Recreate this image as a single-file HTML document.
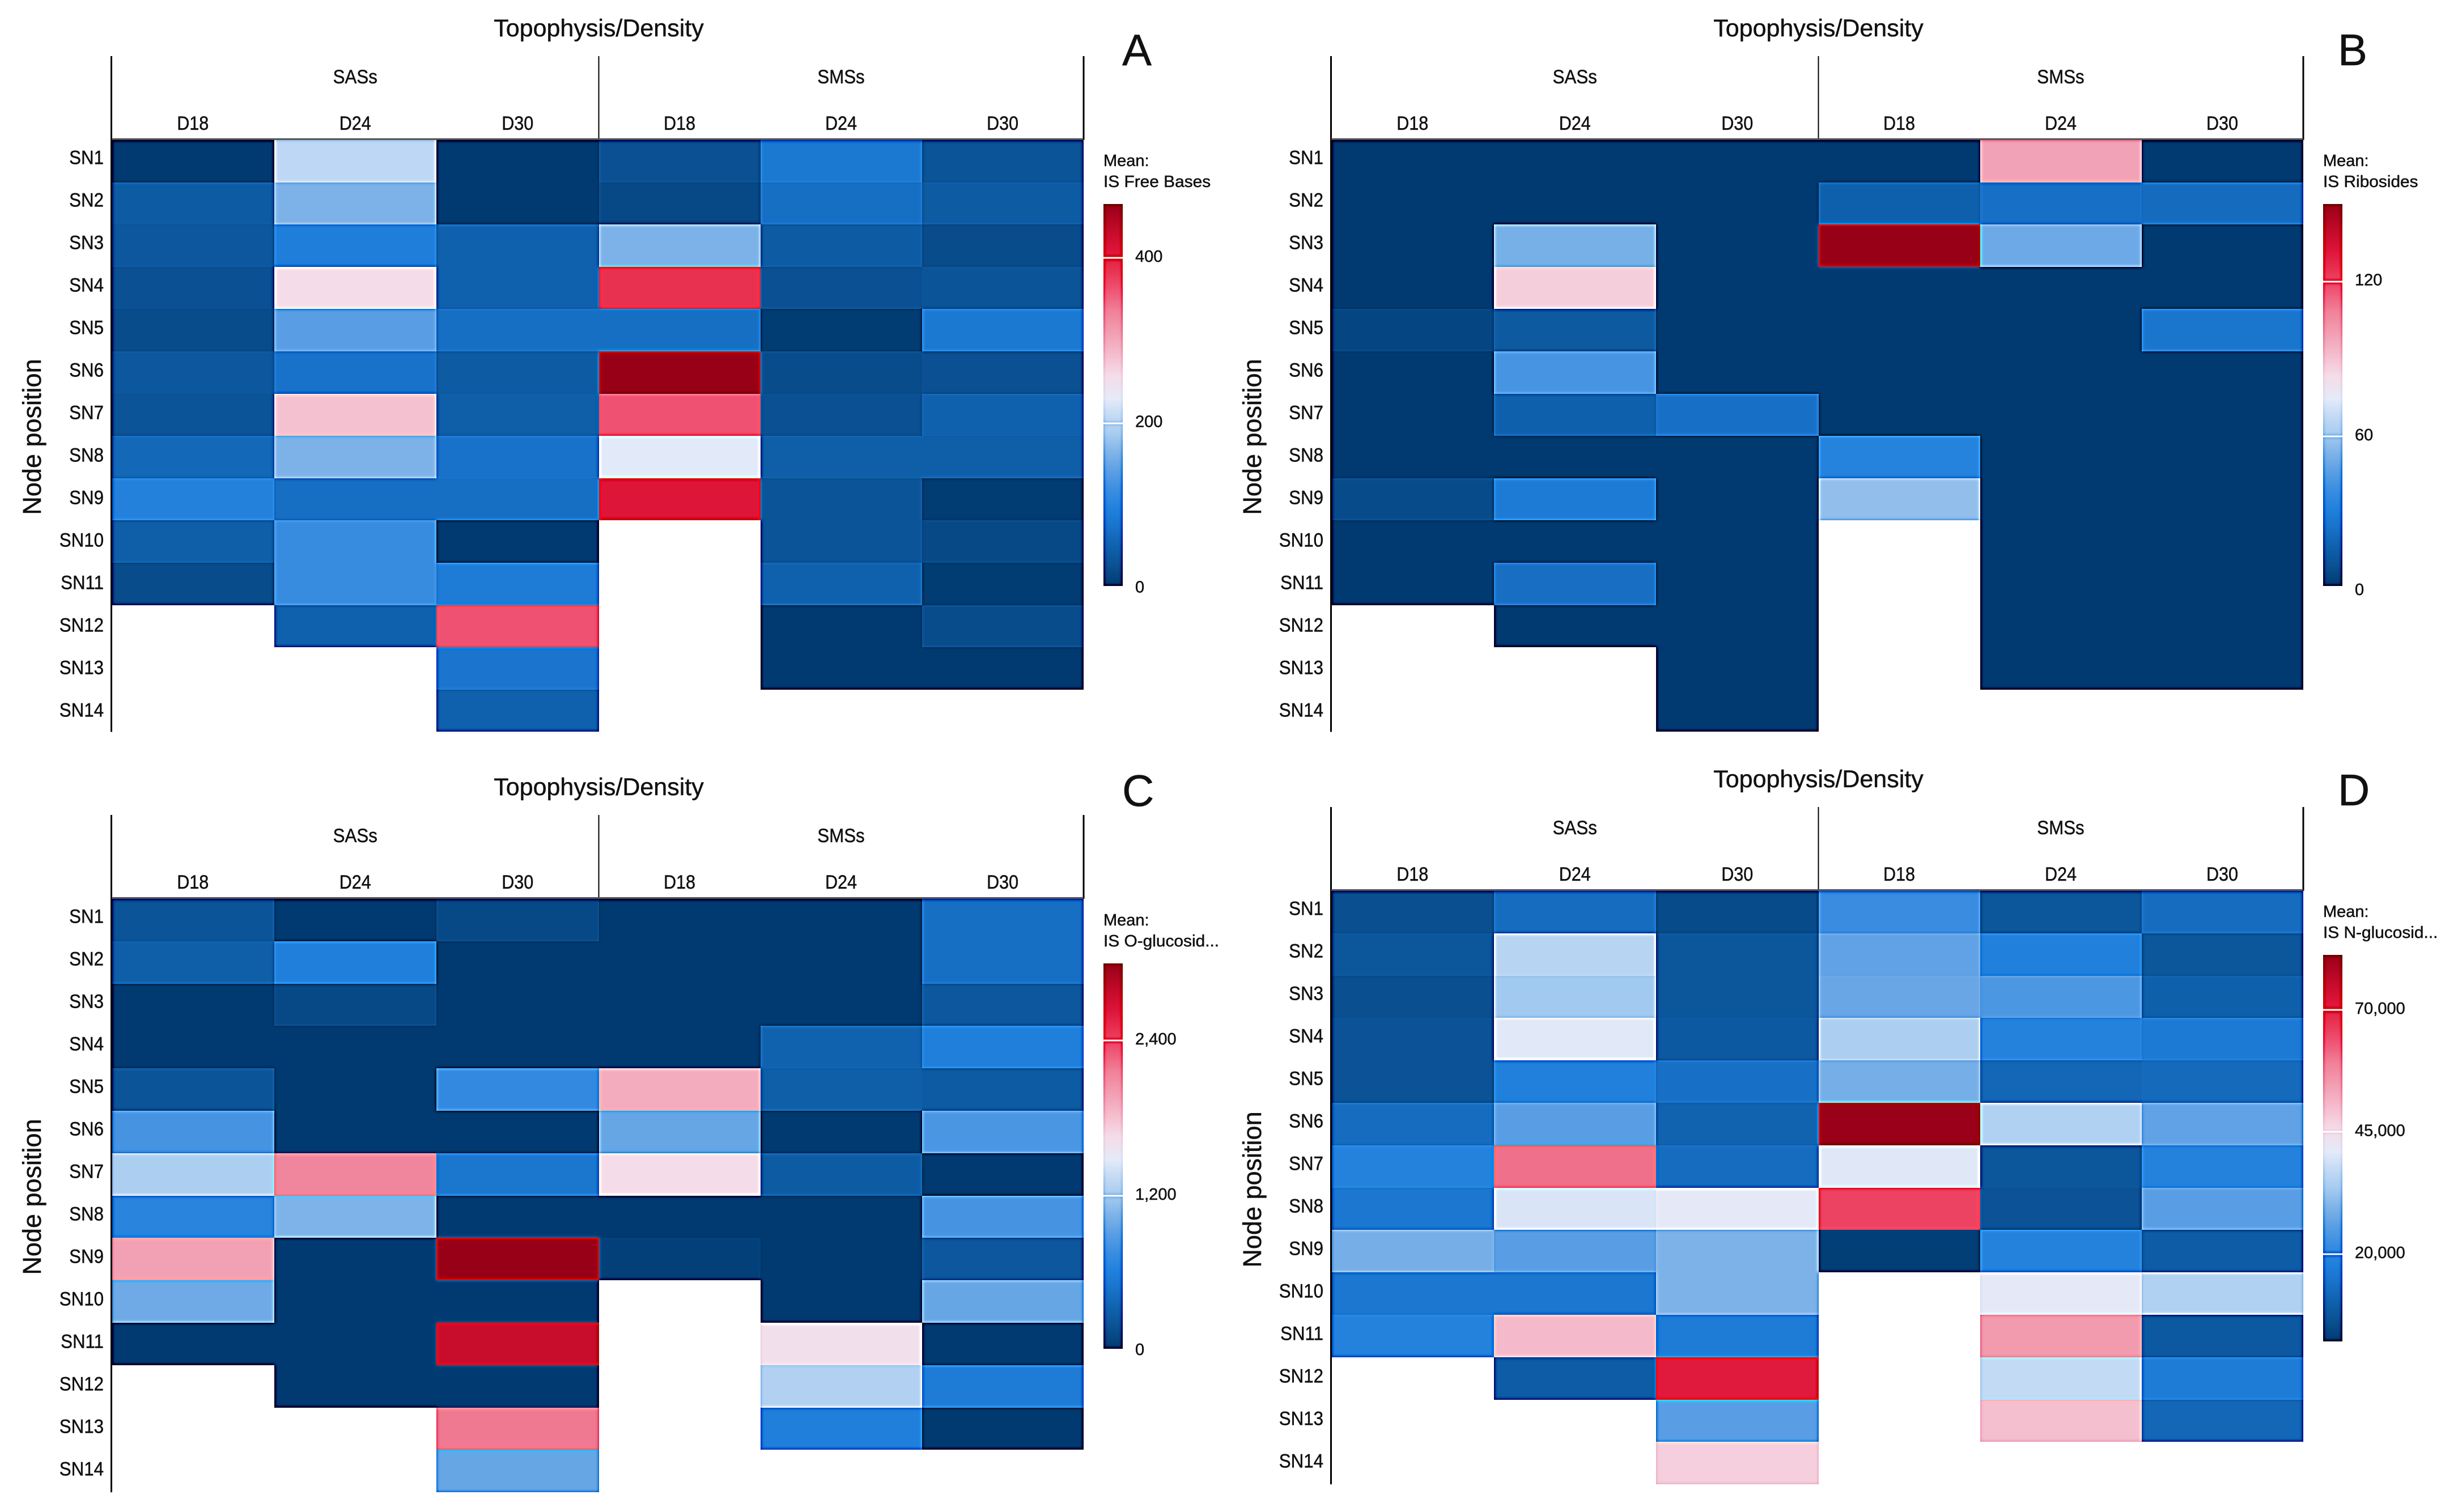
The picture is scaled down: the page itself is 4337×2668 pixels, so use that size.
<!DOCTYPE html>
<html lang="en">
<head>
<meta charset="utf-8">
<title>Topophysis/Density heatmaps</title>
<style>
html,body{margin:0;padding:0;background:#fff;}
svg{display:block;}
text{font-family:"Liberation Sans",sans-serif;fill:#111;stroke:#111;stroke-width:0.5px;}
</style>
</head>
<body>
<svg id="chart" xmlns="http://www.w3.org/2000/svg" width="4337" height="2668" viewBox="0 0 4337 2668">
<defs>
<filter id="sharpen" filterUnits="userSpaceOnUse" x="0" y="0" width="4337" height="2668" color-interpolation-filters="sRGB">
<feGaussianBlur in="SourceGraphic" stdDeviation="3" result="soft"/>
<feComposite in="SourceGraphic" in2="soft" operator="arithmetic" k1="0" k2="2.5" k3="-1.5" k4="0"/>
</filter>
</defs>
</svg>
<script>
var rowLabels = ['SN1','SN2','SN3','SN4','SN5','SN6','SN7','SN8','SN9','SN10','SN11','SN12','SN13','SN14'];
var groupLabels = ['SASs','SMSs'];
var dayLabels = ['D18','D24','D30','D18','D24','D30'];

var valuesA = [
[2,205,2,28,84,33],
[42,163,2,19,70,42],
[37,93,51,163,42,23],
[28,256,51,386,28,33],
[23,140,70,70,5,84],
[37,74,42,465,23,28],
[33,279,47,363,28,51],
[60,163,74,228,47,47],
[98,70,70,409,33,5],
[47,116,2,null,33,19],
[23,116,88,null,51,5],
[null,51,363,null,2,23],
[null,null,79,null,2,2],
[null,null,51,null,null,null]
];
var valuesB = [
[2,2,2,2,99,2],
[2,2,2,17,24,22],
[2,52,2,150,50,2],
[2,87,2,2,2,2],
[6,14,2,2,2,26],
[2,42,2,2,2,2],
[2,17,24,2,2,2],
[2,2,2,33,2,2],
[8,29,2,57,2,2],
[2,2,2,null,2,2],
[2,23,2,null,2,2],
[null,2,2,null,2,2],
[null,null,2,null,2,2],
[null,null,2,null,null,null]
];
var valuesC = [
[210,20,120,20,20,450],
[300,600,20,20,20,450],
[20,120,20,20,20,240],
[20,20,20,20,330,600],
[210,20,720,1920,300,270],
[810,20,20,960,20,840],
[1230,2130,510,1650,270,20],
[660,1050,20,20,20,810],
[1980,20,3000,60,20,240],
[990,20,20,null,20,960],
[20,20,2760,null,1610,20],
[null,20,20,null,1260,570],
[null,null,2190,null,600,20],
[null,null,960,null,null,null]
];
var valuesD = [
[6100,13100,5300,21700,7700,13100],
[7700,35800,7700,26400,17800,7700],
[6100,33200,7700,27200,24100,10000],
[6900,40600,8500,34200,18600,16300],
[6900,17800,13900,28700,11600,12400],
[13100,25600,10800,81000,35000,26400],
[18600,60700,13100,40400,7700,18600],
[15500,39700,41200,65400,6900,25600],
[28700,25600,29500,3000,18600,9200],
[15500,15500,29500,null,41200,35000],
[18600,50600,17000,null,55300,8500],
[null,9200,70900,null,37300,17000],
[null,null,25600,null,49800,11600],
[null,null,47500,null,null,null]
];

var ticksA = [0,200,400];
var tickLabelsA = ['0','200','400'];
var ticksB = [0,60,120];
var tickLabelsB = ['0','60','120'];
var ticksC = [0,1200,2400];
var tickLabelsC = ['0','1,200','2,400'];
var ticksD = [20000,45000,70000];
var tickLabelsD = ['20,000','45,000','70,000'];

var domainA = [3,465];
var domainB = [2,150];
var domainC = [18,2996];
var domainD = [2100,81250];

var colorStopT = [0,0.05,0.1,0.16,0.2,0.25,0.3,0.35,0.4,0.44,0.49,0.55,0.6,0.66,0.72,0.78,0.83,0.88,0.92,1];
var colorStopHex = ['#003a70','#0a4f90','#0f60ab','#1a74cc','#2080dc','#3a8de0','#5b9fe4','#80b4e8','#a8ccf0','#c0d8f4','#e4eaf8','#f5dce8','#f4c0d0','#f2a0b4','#f08098','#ee5070','#e83050','#dc1438','#c80c2c','#980018'];

var NS = 'http://www.w3.org/2000/svg';
var svg = document.getElementById('chart');
var defs = svg.querySelector('defs');

function hexToRgb(h){
  return [parseInt(h.substr(1,2),16),parseInt(h.substr(3,2),16),parseInt(h.substr(5,2),16)];
}
function colorScale(t){
  if(t<=0) return colorStopHex[0];
  if(t>=1) return colorStopHex[colorStopHex.length-1];
  for(var i=1;i<colorStopT.length;i++){
    if(t<=colorStopT[i]){
      var f=(t-colorStopT[i-1])/(colorStopT[i]-colorStopT[i-1]);
      var a=hexToRgb(colorStopHex[i-1]),b=hexToRgb(colorStopHex[i]);
      return 'rgb('+Math.round(a[0]+(b[0]-a[0])*f)+','+Math.round(a[1]+(b[1]-a[1])*f)+','+Math.round(a[2]+(b[2]-a[2])*f)+')';
    }
  }
  return colorStopHex[colorStopHex.length-1];
}
function addShape(parent,tag,attrs){
  var el=document.createElementNS(NS,tag);
  for(var k in attrs){el.setAttribute(k,attrs[k]);}
  parent.appendChild(el);
  return el;
}
function addText(parent,str,x,y,size,anchor,sx,rot){
  var el=document.createElementNS(NS,'text');
  el.textContent=str;
  el.setAttribute('font-size',size);
  el.setAttribute('text-anchor',anchor);
  el.setAttribute('transform','translate('+x+','+y+')'+(rot?' rotate('+rot+')':'')+' scale('+sx+',1)');
  parent.appendChild(el);
  return el;
}

function drawPanel(p){
  var g=addShape(svg,'g',{});
  
  

  var colA=286.5,colB=285;
  function xEdge(i){
    return i<=3 ? p.x0+i*colA : p.x0+3*colA+(i-3)*colB;
  }
  function yEdge(r){
    return p.gt+r*p.rowH;
  }
  var right=xEdge(6);

  var plot=addShape(g,'g',{filter:'url(#sharpen)'});
  
  
  addShape(plot,'rect',{x:p.x0-30,y:p.gt-30,width:right-p.x0+60,height:14*p.rowH+60,fill:'#fff'});
  var r,c;
  for(r=0;r<rowLabels.length;r++){
    for(c=0;c<dayLabels.length;c++){
      var v=p.values[r][c];
      if(v===null) continue;
      var x1=Math.round(xEdge(c)),x2=Math.round(xEdge(c+1)),y1=Math.round(yEdge(r)),y2=Math.round(yEdge(r+1));
      var t=(v-p.domain[0])/(p.domain[1]-p.domain[0]);
      var cell=addShape(plot,'rect',{x:x1,y:y1,width:x2-x1,height:y2-y1,fill:colorScale(t)});
      
      
    }
  }

  var leftAxis=addShape(g,'rect',{x:p.x0-2,y:p.gt-148,width:3,height:14*p.rowH+148,fill:'#000'});
  
  
  var midLine=addShape(g,'rect',{x:xEdge(3)-1,y:p.gt-148,width:2,height:148,fill:'#000'});
  
  
  var rightLine=addShape(g,'rect',{x:right-1,y:p.gt-148,width:3,height:148,fill:'#000'});
  
  
  var headLine=addShape(g,'rect',{x:p.x0,y:p.gt-3,width:right-p.x0,height:3,fill:'#555'});
  
  

  var title=addText(g,'Topophysis/Density',xEdge(3),p.gt-183,43,'middle',1);
  
  

  var gi;
  for(gi=0;gi<groupLabels.length;gi++){
    var gl=addText(g,groupLabels[gi],(xEdge(gi*3)+xEdge(gi*3+3))/2,p.gt-100,34,'middle',0.92);
    
    
  }
  for(c=0;c<dayLabels.length;c++){
    var dl=addText(g,dayLabels[c],(xEdge(c)+xEdge(c+1))/2,p.gt-18,34,'middle',0.9);
    
    
  }
  for(r=0;r<rowLabels.length;r++){
    var rl=addText(g,rowLabels[r],p.x0-14,p.gt+30+r*75+12.5,34,'end',0.92);
    
    
  }
  var yTitle=addText(g,'Node position',p.yTitleX,p.yTitleY,45,'middle',1,-90);
  
  

  var letter=addText(g,p.letter,p.letterX,p.letterY,78,'start',1);
  
  

  /* legend */
  var lg=addShape(g,'g',{});
  
  
  var m1=addText(lg,'Mean:',p.barX,p.barTop-67,29,'start',1);
  
  
  var m2=addText(lg,p.measure,p.barX,p.barTop-30,29,'start',1.03);
  
  

  var gid='grad'+p.letter;
  var grad=addShape(defs,'linearGradient',{id:gid,x1:0,y1:1,x2:0,y2:0});
  for(var s=0;s<colorStopT.length;s++){
    addShape(grad,'stop',{offset:colorStopT[s],'stop-color':colorStopHex[s]});
  }
  function barY(v){
    return p.barBottom-(v-p.domain[0])/(p.domain[1]-p.domain[0])*(p.barBottom-p.barTop);
  }
  var barG=addShape(lg,'g',{filter:'url(#sharpen)'});
  addShape(barG,'rect',{x:p.barX-20,y:p.barTop-20,width:74,height:p.barBottom-p.barTop+40,fill:'#fff'});
  var bar=addShape(barG,'rect',{x:p.barX,y:p.barTop,width:34,height:p.barBottom-p.barTop,fill:'url(#'+gid+')'});
  
  
  for(var k=0;k<p.ticks.length;k++){
    var ty=barY(p.ticks[k]);
    if(ty<p.barBottom){
      var tl=addShape(barG,'rect',{x:p.barX,y:Math.round(ty)-1.5,width:34,height:3,fill:'#fff'});
      
      
    }
    var tt=addText(lg,p.tickLabels[k],p.barX+56,ty+7,29,'start',1);
    
    
  }
}

drawPanel({letter:'A',values:valuesA,domain:domainA,ticks:ticksA,tickLabels:tickLabelsA,measure:'IS Free Bases',
  x0:197,gt:247,rowH:74.6,yTitleX:72,yTitleY:771,letterX:1980,letterY:115,barX:1947,barTop:360,barBottom:1034});
drawPanel({letter:'B',values:valuesB,domain:domainB,ticks:ticksB,tickLabels:tickLabelsB,measure:'IS Ribosides',
  x0:2349,gt:247,rowH:74.6,yTitleX:2225,yTitleY:771,letterX:4125,letterY:115,barX:4099,barTop:360,barBottom:1034});
drawPanel({letter:'C',values:valuesC,domain:domainC,ticks:ticksC,tickLabels:tickLabelsC,measure:'IS O-glucosid...',
  x0:197,gt:1586,rowH:74.8,yTitleX:72,yTitleY:2112,letterX:1980,letterY:1422,barX:1947,barTop:1700,barBottom:2380});
drawPanel({letter:'D',values:valuesD,domain:domainD,ticks:ticksD,tickLabels:tickLabelsD,measure:'IS N-glucosid...',
  x0:2349,gt:1572,rowH:74.8,yTitleX:2225,yTitleY:2099,letterX:4125,letterY:1421,barX:4099,barTop:1685,barBottom:2367});
</script>
</body>
</html>
